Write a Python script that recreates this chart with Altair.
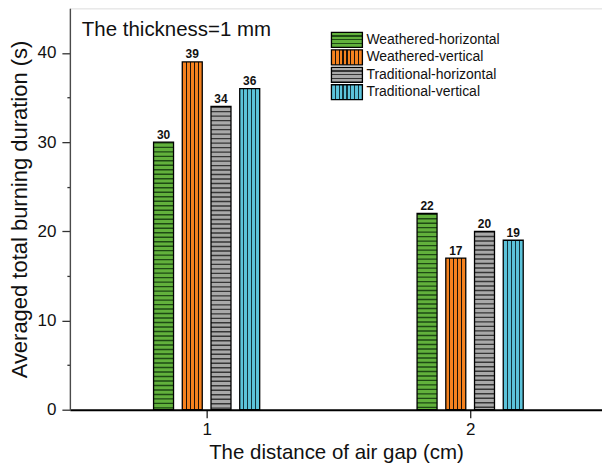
import altair as alt
import pandas as pd

# ---------------- data ----------------
gaps = [1, 2]
series = ["Weathered-horizontal", "Weathered-vertical",
          "Traditional-horizontal", "Traditional-vertical"]
values_gap1 = [30, 39, 34, 36]
values_gap2 = [22, 17, 20, 19]
stripe_dir = ["horizontal", "vertical", "horizontal", "vertical"]

# ---------------- style ----------------
fills = ["#62b13c", "#f5821f", "#a9a9a9", "#5cc3da"]
darks = ["#1e4a14", "#1c1208", "#363636", "#14333c"]
FONT = "Liberation Sans"
W, H = 533, 402
STEP = 0.109      # spacing of bars inside a group (x units)
BAR = 20          # bar width in px

rows = []
for g, vals in zip(gaps, [values_gap1, values_gap2]):
    for i, (s, v) in enumerate(zip(series, vals)):
        rows.append({"gap": g, "series": s, "value": v, "zero": 0,
                     "pos": g + (i - 1.5) * STEP, "dir": stripe_dir[i]})
df = pd.DataFrame(rows)
legend_df = pd.DataFrame({"series": series})


def stripe_gradient(n, light, dark, half, horizontal):
    stops = [{"offset": 0, "color": light}]
    for k in range(1, n):
        f = k / n
        stops += [{"offset": f - half, "color": light},
                  {"offset": f - half, "color": dark},
                  {"offset": f + half, "color": dark},
                  {"offset": f + half, "color": light}]
    stops.append({"offset": 1, "color": light})
    return {"gradient": "linear", "stops": stops,
            "x1": 0, "y1": 0, "x2": 0 if horizontal else 1, "y2": 1 if horizontal else 0}


xscale = alt.Scale(domain=[0.5, 0.5 + W / 269.0], nice=False, zero=False)
yscale = alt.Scale(domain=[0, 45], nice=False)

x_enc = alt.X("pos:Q", scale=xscale,
              axis=alt.Axis(values=[1, 1.5, 2], title="The distance of air gap (cm)",
                            format="d",
                            labelExpr="datum.value == 1.5 ? '' : datum.label",
                            tickSize={"condition": {"test": "datum.value == 1.5", "value": 3}, "value": 8},
                            labelPadding=4, labelFontSize=17, titleFontSize=20.5, titlePadding=5,
                            grid=False, domainColor="#000000", domainWidth=2,
                            tickColor="#222222", tickWidth=1.3, labelColor="#111111",
                            titleColor="#111111", titleFontWeight="normal",
                            labelFont=FONT, titleFont=FONT))
y_enc = alt.Y("value:Q", scale=yscale,
              axis=alt.Axis(values=[0, 5, 10, 15, 20, 25, 30, 35, 40],
                            title="Averaged total burning duration (s)",
                            labelExpr="datum.value % 10 == 0 ? datum.label : ''",
                            tickSize={"condition": {"test": "datum.value % 10 != 0", "value": 3}, "value": 8},
                            labelPadding=6, labelFontSize=17, titleFontSize=22, titlePadding=6,
                            grid=False, domainColor="#4a4a4a", domainWidth=1.4,
                            tickColor="#333333", tickWidth=1.3, labelColor="#111111",
                            titleColor="#111111", titleFontWeight="normal",
                            labelFont=FONT, titleFont=FONT))

base = alt.Chart(df)

bars = base.mark_bar(size=BAR, strokeWidth=0).encode(
    x=x_enc, y=y_enc,
    fill=alt.Fill("series:N", scale=alt.Scale(domain=series, range=fills), legend=None),
)

layers = [bars]
for s, d, sd in zip(series, darks, stripe_dir):
    if sd == "horizontal":
        layers.append(base.transform_filter(alt.datum.series == s).mark_rule(
            strokeWidth=BAR, strokeDash=[1.4, 3.1], color=d, strokeCap="butt").encode(
            x="pos:Q", y="value:Q", y2="zero:Q"))
    else:
        layers.append(base.transform_filter(alt.datum.series == s).mark_bar(
            size=BAR, strokeWidth=0,
            fill=stripe_gradient(5, "rgba(0,0,0,0)", d, 0.033, False)).encode(
            x="pos:Q", y="value:Q"))

outline = base.mark_bar(size=BAR, fill="transparent", stroke="#000000", strokeWidth=1.3).encode(
    x="pos:Q", y="value:Q")
labels = base.mark_text(dy=-3.5, baseline="alphabetic", fontSize=12, fontWeight="bold",
                        font=FONT, color="#111111").encode(
    x="pos:Q", y="value:Q", text="value:Q")
layers += [outline, labels]
main = alt.layer(*layers)

# ---------------- custom patterned legend ----------------
leg_scale = alt.Scale(domain=series, range=[24, 91.5], paddingInner=0.143, paddingOuter=0)
leg_base = alt.Chart(legend_df)
leg_layers = []
for s, f, d, sd in zip(series, fills, darks, stripe_dir):
    if sd == "horizontal":
        grad = stripe_gradient(4, f, d, 0.045, True)
    else:
        grad = stripe_gradient(8, f, d, 0.022, False)
    leg_layers.append(leg_base.transform_filter(alt.datum.series == s).mark_rect(
        fill=grad, stroke="#000000", strokeWidth=1.3).encode(
        y=alt.Y("series:N", scale=leg_scale, axis=None),
        x=alt.value(262), x2=alt.value(293)))
leg_layers.append(leg_base.mark_text(align="left", baseline="middle", fontSize=14,
                                     font=FONT, color="#111111").encode(
    y=alt.Y("series:N", scale=leg_scale, axis=None),
    x=alt.value(297), text="series:N"))
legend = alt.layer(*leg_layers)

chart = alt.layer(main, legend).resolve_scale(y="independent").properties(
    width=W, height=H,
    autosize=alt.AutoSizeParams(type="none"),
    padding={"left": 70, "top": 8, "right": 0, "bottom": 56},
    title=alt.TitleParams("The thickness=1 mm", anchor="start", frame="group", dx=12,
                          offset=-48, baseline="alphabetic", fontSize=20.5, fontWeight="normal",
                          font=FONT, color="#111111"),
).configure_view(stroke="#333333", strokeWidth=1.6).configure(background="white")

chart.save("out.html", embed_options={"renderer": "svg", "actions": False})
